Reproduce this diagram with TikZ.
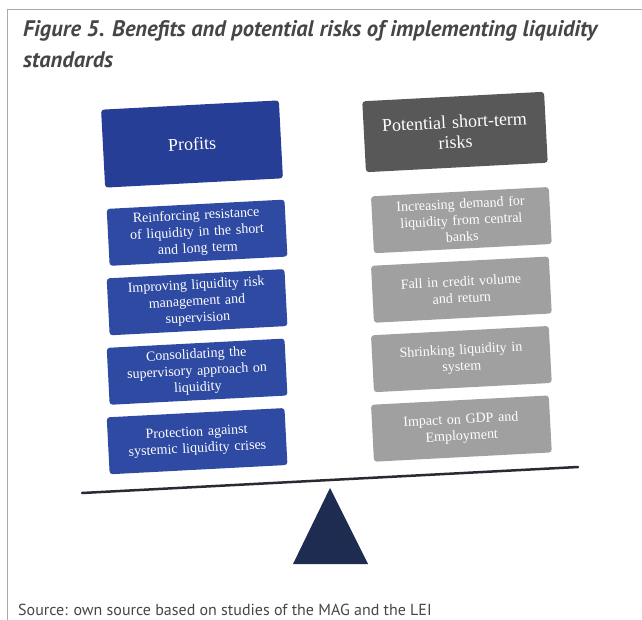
\documentclass[tikz,border=0pt]{standalone}
\usepackage{fontspec}
\setmainfont{Liberation Serif}
\newfontfamily\captionfont{PT Sans}
\usetikzlibrary{positioning}
\definecolor{headblue}{RGB}{38,62,150}
\definecolor{profitblue}{RGB}{46,74,162}
\definecolor{headgray}{RGB}{88,88,88}
\definecolor{riskgray}{RGB}{160,160,160}
\definecolor{standblue}{RGB}{30,44,82}
\definecolor{beamgray}{RGB}{42,42,50}
\definecolor{framegray}{RGB}{170,170,170}
\definecolor{captiongray}{RGB}{70,70,70}
\tikzset {
  box node/.style = {
    rectangle,
    rounded corners = 3pt,
    text = white,
    align = center,
    rotate = 3,
    inner sep = 2pt
  },
  % column header
  head/.style = {
    box node,
    font = \fontsize{18}{20}\selectfont
  },
  % one entry of a column
  item/.style = {
    box node,
    minimum width = 178pt,
    minimum height = 57pt,
    text width = 172pt,
    font = \fontsize{14}{16.5}\selectfont
  },
  pro/.style = {
    item,
    fill = profitblue
  },
  con/.style = {
    item,
    fill = riskgray
  },
  node distance = 12pt
}
\tikzset {
  frame line/.style = {
    draw = framegray,
    line width = 1pt
  },
  beam/.style = {
    draw = beamgray,
    line width = 2.5pt,
    line cap = round
  },
  stand/.style = {
    fill = standblue
  },
  caption title/.style = {
    inner sep = 0,
    align = left,
    text = captiongray,
    font = \captionfont\bfseries\itshape\fontsize{22.5}{31}\selectfont
  },
  source note/.style = {
    inner sep = 0,
    text = captiongray,
    font = \captionfont\fontsize{16}{18}\selectfont
  }
}
\begin{document}
\begin{tikzpicture}[x=1pt, y=1pt]
    \useasboundingbox (0,0) rectangle (642,-620);

    % frame and caption
    \coordinate (frame sw) at (7,-620);
    \coordinate (frame nw) at (7,-10);
    \coordinate (frame ne) at (642,-10);
    \draw[frame line] (frame sw) -- (frame nw) -- (frame ne);

    \node[caption title, anchor=north west] (title) at (23,-20)
      {Figure 5. Benefits and potential risks of implementing liquidity\\standards};

    \node[source note, anchor=base west] (source) at (18,-615)
      {Source: own source based on studies of the MAG and the LEI};

    % benefits column
    \node[head, fill=headblue, minimum width=178pt, minimum height=78pt] (profits) at (192,-144) {Profits};

    \node[pro] (resistance) [below=21pt of profits, xshift=1.5pt]
      {Reinforcing resistance\\of liquidity in the short\\and long term};
    \node[pro] (risk mgmt) [below=of resistance, xshift=-3pt]
      {Improving liquidity risk\\management and\\supervision};
    \node[pro] (approach) [below=of risk mgmt, xshift=-3pt]
      {Consolidating the\\supervisory approach on\\liquidity};
    \node[pro] (protection) [below=of approach, xshift=-3pt]
      {Protection against\\systemic liquidity crises};

    % risks column
    \node[head, fill=headgray, minimum width=182pt, minimum height=71pt, text width=178pt] (risks) at (455,-132)
      {Potential short-term\\risks};

    \node[con] (demand) [below=24pt of risks, xshift=3pt]
      {Increasing demand for\\liquidity from central\\banks};
    \node[con] (credit) [below=of demand, xshift=-3pt]
      {Fall in credit volume\\and return};
    \node[con] (shrinking) [below=of credit, xshift=-3pt]
      {Shrinking liquidity in\\system};
    \node[con] (gdp) [below=of shrinking, xshift=-3pt]
      {Impact on GDP and\\Employment};

    % balance
    \coordinate (beam west) at (82,-493);
    \coordinate (beam east) at (578,-467);
    \draw[beam] (beam west) -- (beam east);

    \coordinate (pivot) at (330,-488);
    \coordinate (foot west) at (293,-564);
    \coordinate (foot east) at (368,-564);
    \fill[stand] (pivot) -- (foot west) -- (foot east) -- cycle;
\end{tikzpicture}
\end{document}
